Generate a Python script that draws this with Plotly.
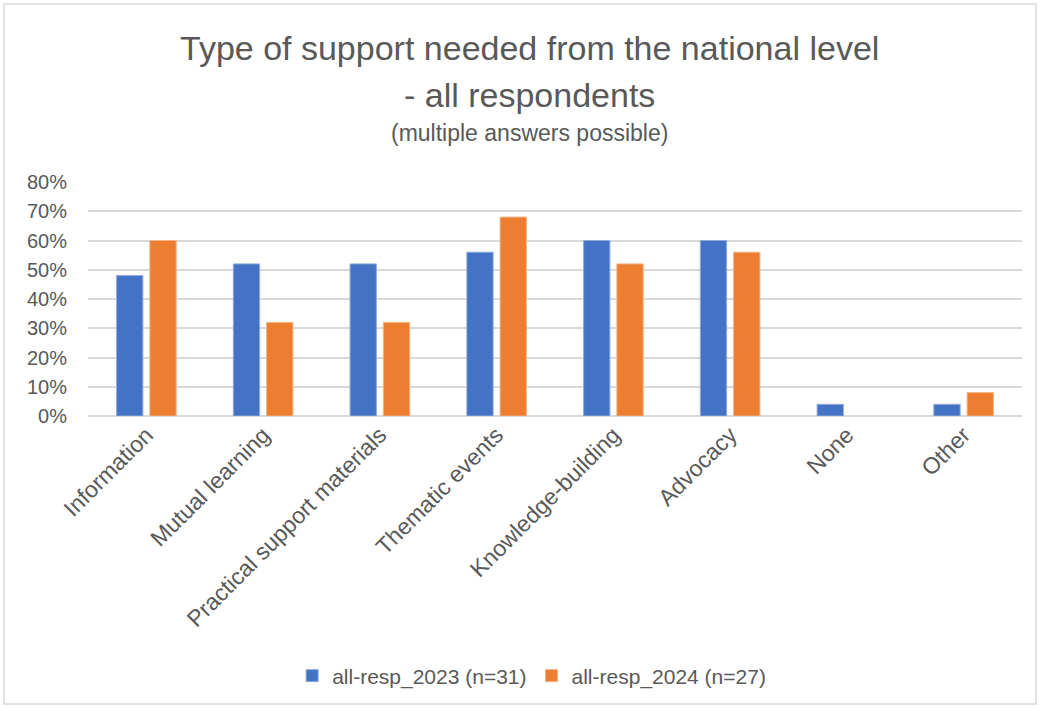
import plotly.graph_objects as go

categories = ["Information", "Mutual learning", "Practical support materials", "Thematic events",
              "Knowledge-building", "Advocacy", "None", "Other"]
resp_2023 = [0.48, 0.52, 0.52, 0.56, 0.60, 0.60, 0.04, 0.04]
resp_2024 = [0.60, 0.32, 0.32, 0.68, 0.52, 0.56, 0.00, 0.08]
series_names = ["all-resp_2023 (n=31)", "all-resp_2024 (n=27)"]
y_ticks = [0, 0.1, 0.2, 0.3, 0.4, 0.5, 0.6, 0.7, 0.8]

FONT = "Liberation Sans, Arial, sans-serif"
TXT = "#595959"
PT, PB = 182, 416          # plot top / bottom in pixels
PH = PB - PT


def py(ypix):
    return (PB - ypix) / PH


def edge_widths(vals):
    return [1 if v > 0 else 0 for v in vals]


fig = go.Figure()
fig.add_trace(go.Bar(x=categories, y=resp_2023, name=series_names[0],
                     marker=dict(color="#4472C4",
                                 line=dict(color="#8FAADC", width=edge_widths(resp_2023)))))
fig.add_trace(go.Bar(x=categories, y=resp_2024, name=series_names[1],
                     marker=dict(color="#ED7D31",
                                 line=dict(color="#F4B183", width=edge_widths(resp_2024)))))

fig.update_layout(
    width=1040, height=708,
    margin=dict(l=88, r=18, t=PT, b=708 - PB),
    paper_bgcolor="white", plot_bgcolor="white",
    barmode="group", bargap=0.43, bargroupgap=0.21,
    font=dict(family=FONT, color=TXT, size=18),
    showlegend=True,
    legend=dict(orientation="h", x=0.475, xanchor="center", y=py(676), yanchor="middle",
                font=dict(size=21, color=TXT), itemwidth=30, tracegroupgap=0),
    xaxis=dict(tickangle=-45, tickfont=dict(size=23, color=TXT), showgrid=False,
               showline=False, ticks=""),
    yaxis=dict(range=[0, 0.8], tickvals=y_ticks, tickformat=".0%",
               tickfont=dict(size=20, color=TXT), showgrid=True, gridcolor="#D9D9D9",
               gridwidth=1.5, zeroline=True, zerolinecolor="#D9D9D9", zerolinewidth=1.5,
               showline=False, ticks="", ticklabelstandoff=20),
)

fig.add_annotation(text="Type of support needed from the national level", xref="paper", yref="paper",
                   x=0.5, y=py(48), xanchor="center", yanchor="middle",
                   xshift=-26, showarrow=False, font=dict(size=34, color=TXT, family=FONT))
fig.add_annotation(text="- all respondents", xref="paper", yref="paper",
                   x=0.5, y=py(95), xanchor="center", yanchor="middle",
                   xshift=-26, showarrow=False, font=dict(size=34, color=TXT, family=FONT))
fig.add_annotation(text="(multiple answers possible)", xref="paper", yref="paper",
                   x=0.5, y=py(133), xanchor="center", yanchor="middle",
                   xshift=-26, showarrow=False, font=dict(size=23, color=TXT, family=FONT))

fig.add_shape(type="rect", xref="paper", yref="paper",
              x0=(4 - 88) / 934, x1=(1036 - 88) / 934,
              y0=py(704), y1=py(4),
              line=dict(color="#D9D9D9", width=1.5), fillcolor="rgba(0,0,0,0)", layer="below")

fig.write_html("out.html")
